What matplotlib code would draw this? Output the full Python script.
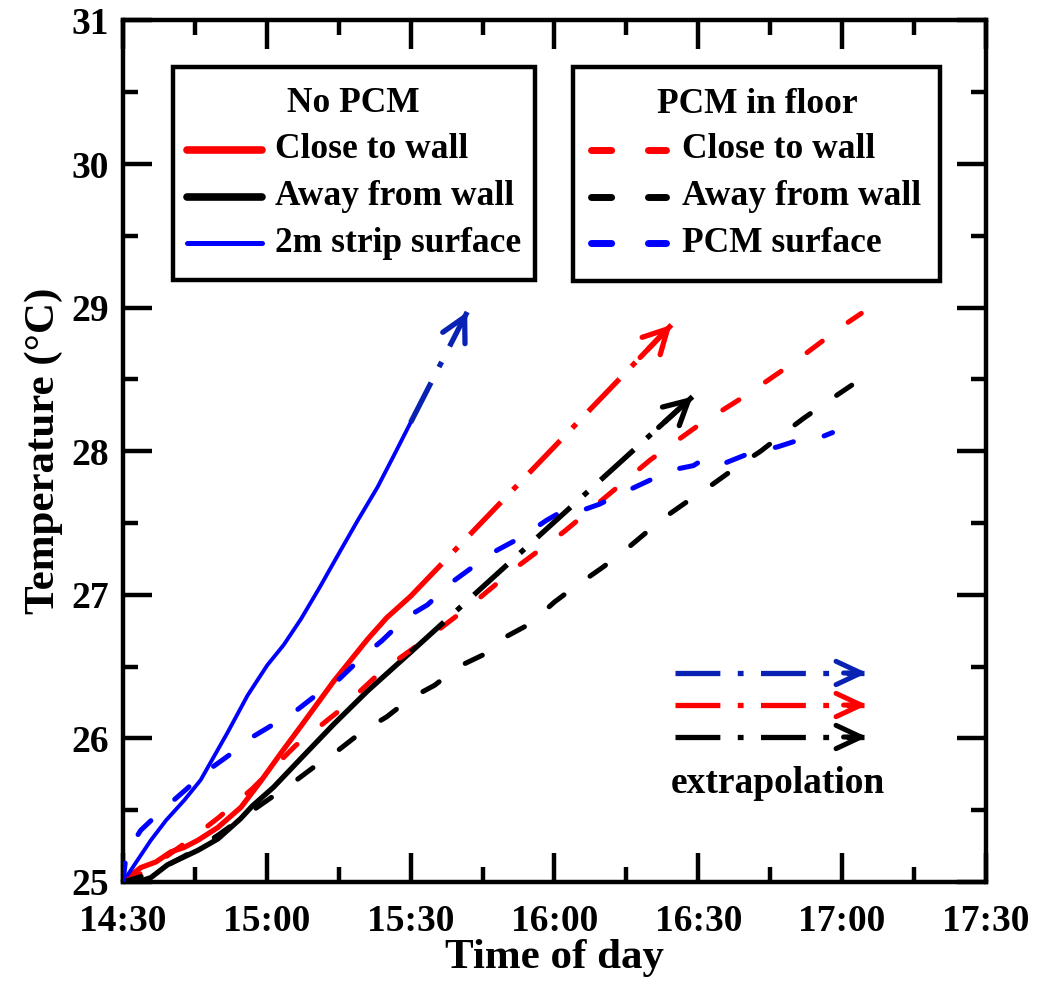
import matplotlib
matplotlib.use('Agg')
import matplotlib.pyplot as plt
from matplotlib.patches import Rectangle
from matplotlib.ticker import MultipleLocator

plt.rcParams['font.family'] = ['Liberation Serif', 'DejaVu Serif']
plt.rcParams['font.weight'] = 'bold'

# ---------------- data (minutes after 14:30, temperature in degC) ----------------
t_nopcm_close = [0, 1, 3.7, 6.9, 10, 12.7, 15.6, 19.8, 24.6, 28.7, 33, 37, 44, 51, 55, 60]
T_nopcm_close = [25.0, 25.03, 25.1, 25.14, 25.21, 25.24, 25.29, 25.38, 25.52, 25.7,
                 25.9, 26.08, 26.4, 26.69, 26.84, 26.99]

t_nopcm_away = [0, 3, 5.8, 9.3, 15.6, 19.8, 24.5, 27, 31.4, 37.1, 44, 51, 58, 60]
T_nopcm_away = [25.0, 25.0, 25.03, 25.12, 25.22, 25.3, 25.44, 25.53, 25.66, 25.86,
                26.1, 26.33, 26.54, 26.6]

t_nopcm_strip = [0, 2, 5.8, 9, 12.8, 16.2, 21.8, 26, 30.1, 33.5, 37.1, 41, 45.4, 49,
                 53.1, 56.5, 60]
T_nopcm_strip = [25.0, 25.1, 25.29, 25.43, 25.57, 25.71, 26.04, 26.3, 26.51, 26.65,
                 26.83, 27.05, 27.31, 27.52, 27.75, 27.97, 28.2]

t_pcm_close = [0, 5, 10, 15, 20, 27, 36, 45, 54, 64, 73, 82, 92, 101, 110, 120, 130,
               140, 150, 154]
T_pcm_close = [25.0, 25.08, 25.2, 25.32, 25.45, 25.65, 25.95, 26.19, 26.47, 26.71,
               26.94, 27.19, 27.44, 27.69, 27.94, 28.18, 28.39, 28.62, 28.87, 28.96]

t_pcm_away = [0, 5, 10, 15, 20, 25, 31, 35, 41, 45, 50, 55, 60, 65, 70, 75, 80, 85,
              90, 94, 100, 104, 109, 113, 119, 123, 128, 133, 138, 142, 148, 152]
T_pcm_away = [25.0, 25.05, 25.13, 25.22, 25.33, 25.45, 25.59, 25.68, 25.83, 25.92,
              26.05, 26.15, 26.28, 26.37, 26.5, 26.58, 26.71, 26.8, 26.95, 27.05,
              27.19, 27.29, 27.43, 27.54, 27.68, 27.77, 27.89, 28.0, 28.13, 28.23,
              28.37, 28.46]

t_pcm_surface = [0, 0.7, 3.7, 7.5, 13, 17, 22, 26, 31, 36, 41, 45, 50, 54, 59, 63.5,
                 68.7, 72.8, 78, 83, 88.4, 91, 92.5, 99.3, 103.6, 110, 114.6, 119,
                 120.9, 121.9, 125, 131, 136.5, 143, 145, 148]
T_pcm_surface = [25.0, 25.2, 25.36, 25.48, 25.64, 25.76, 25.88, 25.99, 26.09, 26.19,
                 26.32, 26.41, 26.57, 26.68, 26.84, 26.93, 27.09, 27.19, 27.31, 27.4,
                 27.52, 27.57, 27.55, 27.63, 27.7, 27.8, 27.87, 27.9, 27.94, 27.91,
                 27.91, 27.99, 28.03, 28.1, 28.09, 28.13]

# extrapolations: strip surface, close to wall, away from wall
ext_colors = ['#0a22b4', '#ff0000', '#000000']
ext_t0 = [60, 60, 60]
ext_T0 = [28.2, 26.99, 26.6]
ext_t1 = [71.8, 114.4, 118.8]
ext_T1 = [28.97, 28.88, 28.38]

x_ticks = [0, 30, 60, 90, 120, 150, 180]
x_labels = ['14:30', '15:00', '15:30', '16:00', '16:30', '17:00', '17:30']
y_ticks = [25, 26, 27, 28, 29, 30, 31]

RED = '#ff0000'
BLUE = '#0000ff'
BLACK = '#000000'

# ---------------- figure ----------------
fig = plt.figure(figsize=(10.43, 9.89), dpi=100)
ax = fig.add_axes([0.1179, 0.1082, 0.8274, 0.8711])

DASH = (3.8, 6.4)
DASHDOT = (8.5, 3.3, 1.1, 3.3)

ax.plot(t_nopcm_close, T_nopcm_close, color=RED, lw=3.8, solid_capstyle='round', zorder=3)
ax.plot(t_nopcm_away, T_nopcm_away, color=BLACK, lw=3.8, solid_capstyle='round', zorder=3)
ax.plot(t_nopcm_strip, T_nopcm_strip, color=BLUE, lw=2.8, solid_capstyle='round', zorder=3)

ax.plot(t_pcm_close, T_pcm_close, color=RED, lw=3.6, dashes=DASH,
        dash_capstyle='round', zorder=4)
ax.plot(t_pcm_away, T_pcm_away, color=BLACK, lw=3.6, dashes=DASH,
        dash_capstyle='round', zorder=4)
ax.plot(t_pcm_surface, T_pcm_surface, color=BLUE, lw=3.6, dashes=DASH,
        dash_capstyle='round', zorder=4)

for c, a0, b0, a1, b1 in zip(ext_colors, ext_t0, ext_T0, ext_t1, ext_T1):
    ax.plot([a0, a1], [b0, b1], color=c, lw=3.8, dashes=DASHDOT,
            dash_capstyle='butt', zorder=4)
    fx = a1 - (a1 - a0) * 0.12
    fy = b1 - (b1 - b0) * 0.12
    ax.annotate('', xy=(a1, b1), xytext=(fx, fy),
                arrowprops=dict(arrowstyle='->,head_length=0.85,head_width=0.45',
                                color=c, lw=3.8, shrinkA=0, shrinkB=0,
                                mutation_scale=20, capstyle='round',
                                joinstyle='round'), zorder=5)

ax.set_xlim(0, 180)
ax.set_ylim(25, 31)
ax.set_xticks(x_ticks)
ax.set_xticklabels(x_labels)
ax.set_yticks(y_ticks)
ax.xaxis.set_minor_locator(MultipleLocator(15))
ax.yaxis.set_minor_locator(MultipleLocator(0.5))
ax.tick_params(which='both', direction='in', top=True, right=True, width=3.2)
ax.tick_params(which='major', length=21, labelsize=27)
ax.tick_params(which='minor', length=11)
ax.tick_params(axis='x', which='major', pad=16)
ax.tick_params(axis='y', which='major', pad=10)
for s in ax.spines.values():
    s.set_linewidth(3.2)

ax.set_xlabel('Time of day', fontsize=31, fontweight='bold', labelpad=0)
ax.set_ylabel('Temperature (\u00b0C)', fontsize=31, fontweight='bold', labelpad=6)

# ---------------- legend boxes ----------------
TA = ax.transAxes
FS = 25.5
rows = [0.8497, 0.7951, 0.7417]

ax.add_patch(Rectangle((0.0579, 0.6988), 0.4195, 0.2472, transform=TA,
                       facecolor='white', edgecolor='black', lw=3.2, zorder=6))
ax.text(0.2665, 0.9042, 'No PCM', transform=TA, fontsize=FS, ha='center',
        va='center', zorder=7)
leg1 = [('Close to wall', RED, 5.5), ('Away from wall', BLACK, 5.5),
        ('2m strip surface', BLUE, 3.6)]
for (lab, c, w), y in zip(leg1, rows):
    ax.plot([0.0742, 0.1611], [y, y], transform=TA, color=c, lw=w,
            solid_capstyle='round', zorder=7)
    ax.text(0.1761, y, lab, transform=TA, fontsize=FS, ha='left', va='center', zorder=7)

ax.add_patch(Rectangle((0.5214, 0.6976), 0.4253, 0.2484, transform=TA,
                       facecolor='white', edgecolor='black', lw=3.2, zorder=6))
ax.text(0.7347, 0.9019, 'PCM in floor', transform=TA, fontsize=FS, ha='center',
        va='center', zorder=7)
leg2 = [('Close to wall', RED), ('Away from wall', BLACK), ('PCM surface', BLUE)]
for (lab, c), y in zip(leg2, rows):
    ax.plot([0.5418, 0.6297], [y, y], transform=TA, color=c, lw=5,
            dashes=(2.9, 5.3), dash_capstyle='round', zorder=7)
    ax.text(0.6477, y, lab, transform=TA, fontsize=FS, ha='left', va='center', zorder=7)

# ---------------- extrapolation key ----------------
ext_rows = [0.2426, 0.2054, 0.1683]
for c, y in zip(ext_colors, ext_rows):
    ax.plot([0.6396, 0.8590], [y, y], transform=TA, color=c, lw=3.8,
            dashes=(8.5, 3.3, 1.1, 3.3), dash_capstyle='butt', zorder=7)
    ax.annotate('', xy=(0.8621, y), xytext=(0.835, y), xycoords='axes fraction',
                textcoords='axes fraction',
                arrowprops=dict(arrowstyle='->,head_length=0.9,head_width=0.42',
                                color=c, lw=3.6, shrinkA=0, shrinkB=0,
                                mutation_scale=20, capstyle='round',
                                joinstyle='round'), zorder=8)
ax.text(0.759, 0.1149, 'extrapolation', transform=TA, fontsize=27, ha='center',
        va='center', zorder=7)

fig.savefig('out.png', dpi=100)
